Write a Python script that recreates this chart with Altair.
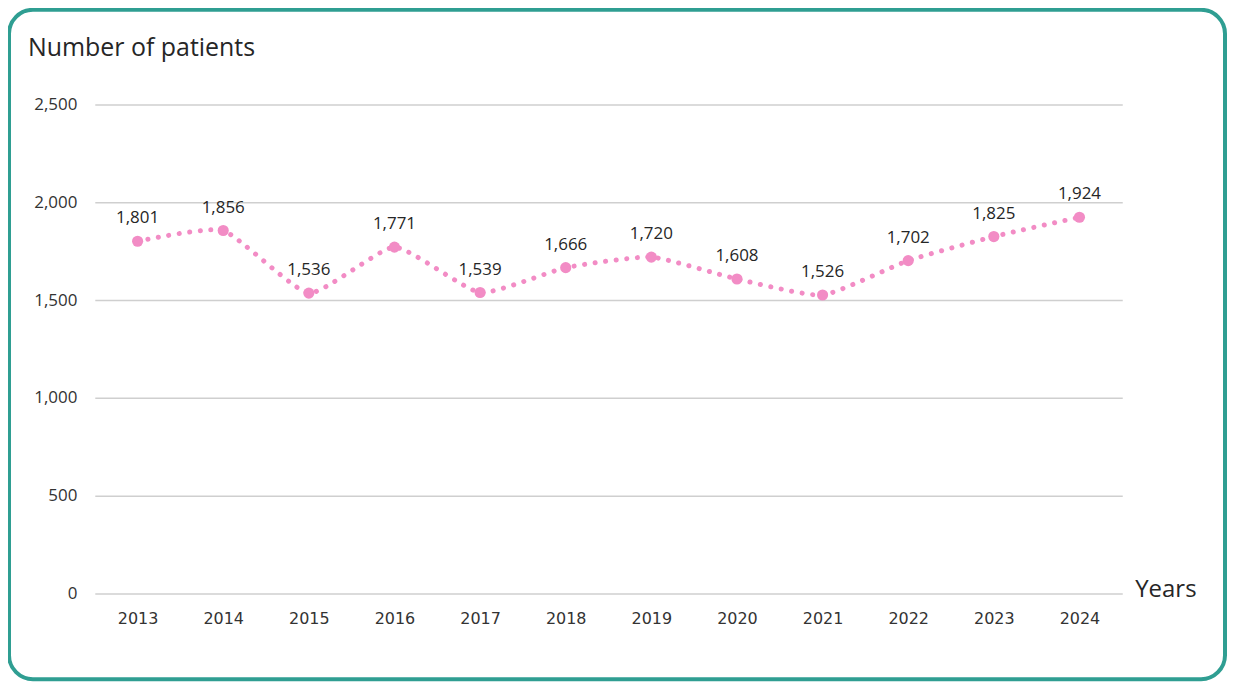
import altair as alt
import pandas as pd

years = ["2013", "2014", "2015", "2016", "2017", "2018", "2019", "2020", "2021", "2022", "2023", "2024"]
patients = [1801, 1856, 1536, 1771, 1539, 1666, 1720, 1608, 1526, 1702, 1825, 1924]
y_ticks = [0, 500, 1000, 1500, 2000, 2500]
title_text = ["Number of patients"]
x_title_text = ["Years"]

PINK = "#F28CC5"
TEAL = "#2F9E92"
FONT = "Open Sans"

df = pd.DataFrame({"year": years, "patients": patients})

base = alt.Chart(df)

x = alt.X(
    "year:O",
    sort=years,
    axis=alt.Axis(
        title=None, labelAngle=0, domain=False, ticks=False, tickSize=0,
        labelPadding=17, labelFont="DejaVu Sans", labelFontSize=16,
        labelColor="#333333", grid=False,
    ),
)
y = alt.Y(
    "patients:Q",
    scale=alt.Scale(domain=[0, 2500], nice=False),
    axis=alt.Axis(
        title=None, values=y_ticks, format=",.0f", domain=False, ticks=False, tickSize=0,
        labelPadding=18, labelFont=FONT, labelFontSize=17, labelColor="#333333",
        grid=True, gridColor="#CFCFCF", gridWidth=1.5,
    ),
)

line = base.mark_line(
    color=PINK, strokeWidth=5, strokeCap="round", strokeDash=[0.1, 10.5],
    interpolate="cardinal", tension=0.5,
).encode(x=x, y=y)

points = base.mark_point(
    filled=True, size=125, color=PINK, opacity=1, shape="circle",
).encode(x=x, y=y)

labels = base.mark_text(
    font=FONT, fontSize=17, color="#262626", dy=-18, baseline="alphabetic",
).encode(x=x, y=y, text=alt.Text("patients:Q", format=","))

title = alt.Chart(pd.DataFrame({"t": title_text})).mark_text(
    font=FONT, fontSize=25, color="#262626", align="left", baseline="alphabetic",
).encode(x=alt.value(-67), y=alt.value(-49), text="t:N")

xtitle = alt.Chart(pd.DataFrame({"t": x_title_text})).mark_text(
    font=FONT, fontSize=24, color="#262626", align="left", baseline="alphabetic",
).encode(x=alt.value(1043), y=alt.value(494), text="t:N")

border = alt.Chart(pd.DataFrame({"b": [1]})).mark_rect(
    fill="transparent", stroke=TEAL, strokeWidth=4, cornerRadius=24,
).encode(x=alt.value(-86), x2=alt.value(1133), y=alt.value(-95), y2=alt.value(576))

chart = alt.layer(border, line, points, labels, title, xtitle).properties(
    width=1030,
    height=490,
    autosize=alt.AutoSizeParams(type="none"),
    padding={"left": 87, "top": 96, "right": 105, "bottom": 88},
    background="white",
).configure_view(stroke=None)

chart.save("out.html", embed_options={"renderer": "svg", "actions": False})
